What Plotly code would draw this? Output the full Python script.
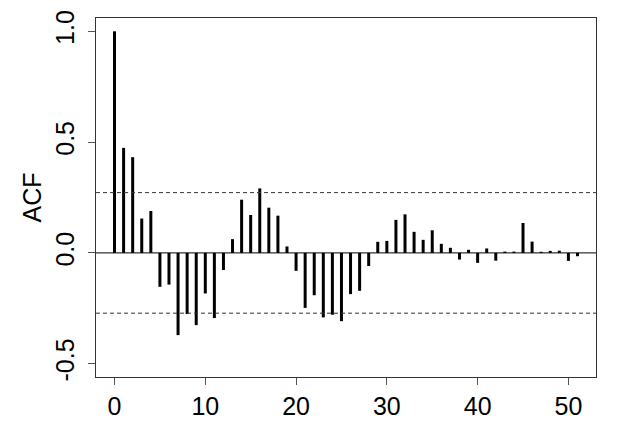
import plotly.graph_objects as go

lags = list(range(52))
acf = [1.0, 0.474, 0.432, 0.155, 0.189, -0.153, -0.143, -0.371, -0.276, -0.326,
       -0.183, -0.294, -0.077, 0.062, 0.240, 0.171, 0.291, 0.204, 0.168, 0.029,
       -0.081, -0.248, -0.191, -0.291, -0.279, -0.308, -0.186, -0.171, -0.059, 0.050,
       0.054, 0.149, 0.174, 0.095, 0.059, 0.102, 0.041, 0.023, -0.030, 0.014,
       -0.045, 0.020, -0.035, 0.006, 0.006, 0.135, 0.051, 0.005, 0.009, 0.010,
       -0.036, -0.015]
ci = 0.272

# segmentos verticais (estilo R type="h")
xs, ys = [], []
for k, v in zip(lags, acf):
    xs += [k, k, None]
    ys += [0, v, None]

fig = go.Figure()
fig.add_trace(go.Scatter(x=xs, y=ys, mode='lines',
                         line=dict(color='black', width=3), hoverinfo='skip'))

fig.add_hline(y=0, line=dict(color='black', width=1))
for c in (ci, -ci):
    fig.add_hline(y=c, line=dict(color='#333', width=1, dash='4px,3px'))

font = dict(family='Liberation Sans, Arial, sans-serif', size=25, color='black')
# a página tem margem de 8px no body
fig.update_layout(
    width=601, height=432,
    paper_bgcolor='white', plot_bgcolor='white',
    showlegend=False,
    font=font,
    margin=dict(l=88, r=13, t=10, b=63),
    xaxis=dict(range=[-2.04, 53.04], tickvals=[0, 10, 20, 30, 40, 50],
               showgrid=False, zeroline=False, showline=True, mirror=True,
               linecolor='#333', linewidth=1, ticks='outside', ticklen=7,
               tickcolor='#555', tickfont=font, automargin=False,
               ticklabelstandoff=0),
    yaxis=dict(range=[-0.56, 1.06], tickvals=[-0.5, 0, 0.5, 1.0],
               ticktext=['-0.5', '0.0', '0.5', '1.0'], tickangle=-90,
               showgrid=False, zeroline=False, showline=True, mirror=True,
               linecolor='#333', linewidth=1, ticks='outside', ticklen=7,
               tickcolor='#555', tickfont=font, automargin=False,
               ticklabelstandoff=4,
               title=dict(text='ACF', font=font, standoff=2)),
)

fig.write_html("out.html")
